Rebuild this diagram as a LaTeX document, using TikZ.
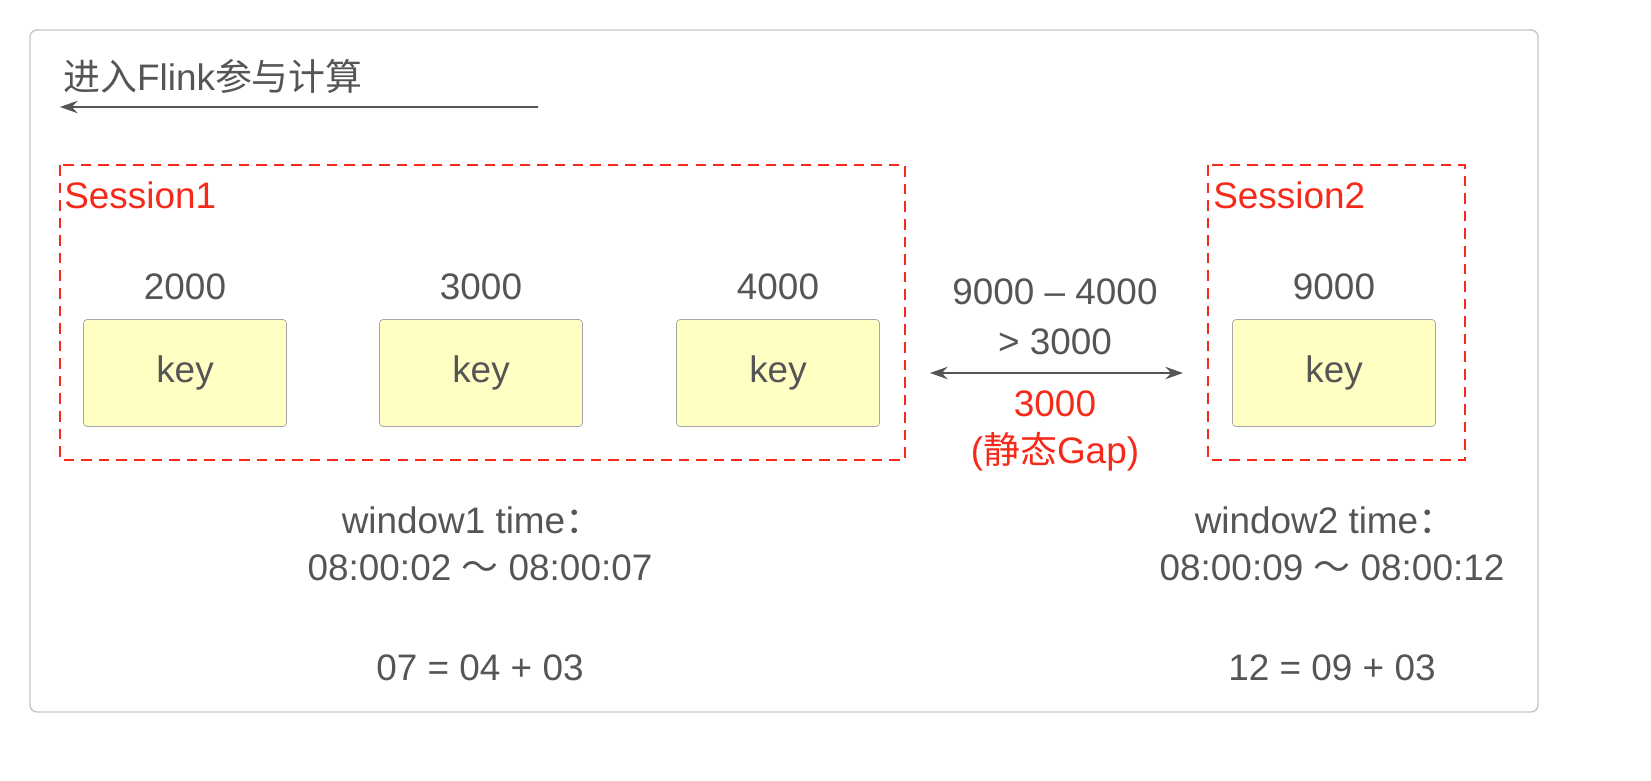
\documentclass[tikz,border=0pt]{standalone}
\usepackage{fontspec}
\setmainfont{Liberation Sans}
\newfontfamily\cjk{Noto Sans CJK SC}
\usetikzlibrary{arrows.meta}
\definecolor{txt}{HTML}{555555}
\definecolor{redd}{HTML}{F52A1A}
\definecolor{keyfill}{HTML}{FFFFC4}
\begin{document}
\begin{tikzpicture}[x=0.02cm,y=-0.02cm,
  every node/.style={font=\fontsize{21}{24}\selectfont, text=txt, inner sep=0},
  keybox/.style={draw=gray!70, fill=keyfill, rounded corners=2pt, minimum width=4.06cm, minimum height=2.14cm},
  sess/.style={draw=redd, line width=1.2pt, dash pattern=on 6pt off 4pt},
  redtxt/.style={text=redd}]
\draw[gray!45, rounded corners=4pt, line width=0.8pt] (30,30) rectangle (1538,712);
\node[anchor=west] (title) at (63,76) {{\cjk 进入}Flink{\cjk 参与计算}};
\coordinate (ar1) at (538,107); \coordinate (ar2) at (60,107);
\draw[txt, line width=1.2pt, -{Stealth[length=10pt,width=7pt]}] (ar1) -- (ar2);
\draw[sess] (60,165) rectangle (905,460);
\draw[sess] (1208,165) rectangle (1465,460);
\node[redtxt, anchor=west] (s1) at (64,195) {Session1};
\node[redtxt, anchor=west] (s2) at (1213,195) {Session2};
\node[keybox] (k1) at (185,373) {key};
\node[keybox] (k2) at (481,373) {key};
\node[keybox] (k3) at (778,373) {key};
\node[keybox] (k4) at (1334,373) {key};
\node (n1) at (185,287) {2000};
\node (n2) at (481,287) {3000};
\node (n3) at (778,287) {4000};
\node (n4) at (1334,287) {9000};
\coordinate (da) at (930,373); \coordinate (db) at (1183,373);
\draw[txt, line width=1.2pt, {Stealth[length=10pt,width=7pt]}-{Stealth[length=10pt,width=7pt]}] (da) -- (db);
\node (d1) at (1055,292) {9000 – 4000};
\node (d2) at (1055,342) {> 3000};
\node[redtxt] (g1) at (1055,404) {3000};
\node[redtxt] (g2) at (1055,452) {({\cjk 静态}Gap)};
\node (w1a) at (472,520) {window1 time{\cjk ：}};
\node (w1b) at (480,568) {08:00:02 {\cjk ～} 08:00:07};
\node (w1c) at (480,668) {07 = 04 + 03};
\node (w2a) at (1325,520) {window2 time{\cjk ：}};
\node (w2b) at (1332,568) {08:00:09 {\cjk ～} 08:00:12};
\node (w2c) at (1332,668) {12 = 09 + 03};
\pgfresetboundingbox
\useasboundingbox (0,0) rectangle (1651,781);
\end{tikzpicture}
\end{document}
